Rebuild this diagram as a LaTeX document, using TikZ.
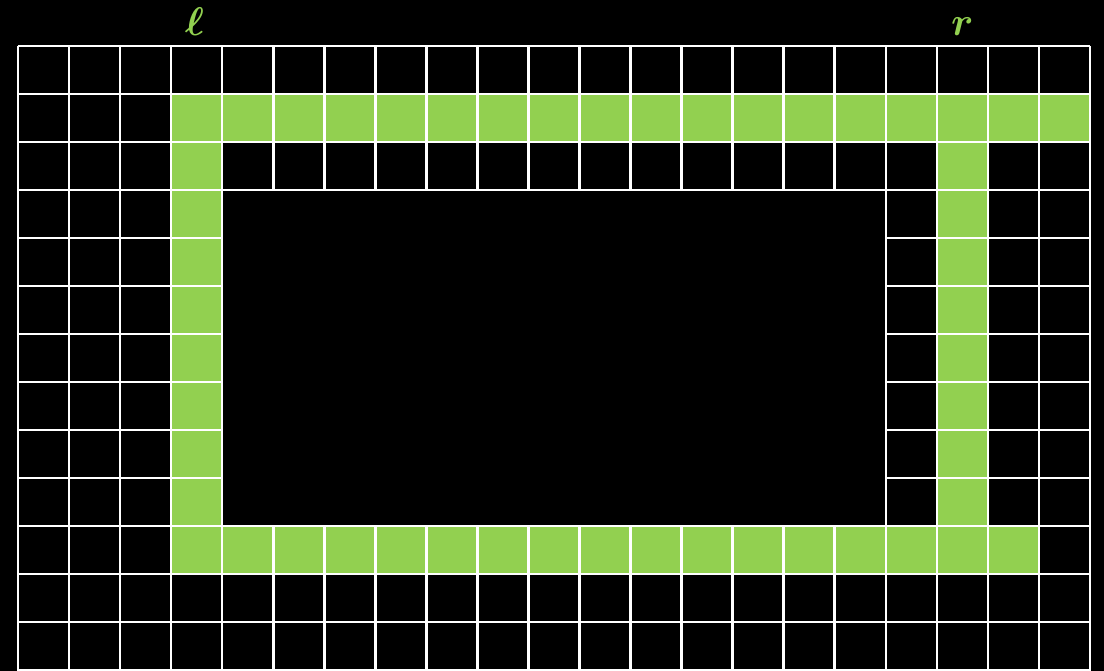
\documentclass[tikz,border=0pt]{standalone}
\usepackage{graphicx}
\definecolor{cellgreen}{RGB}{146,208,80}
\begin{document}
\begin{tikzpicture}[x=1pt,y=-1pt,
  gridline/.style={white,line width=2.6pt},
  greencell/.style={fill=cellgreen},
  lbl/.style={text=cellgreen,anchor=base,inner sep=0pt,font=\boldmath}]
\fill[black] (0,0) rectangle (1104,671);
\useasboundingbox (0,0) rectangle (1104,671);
\def\cw{51.0476}
\def\rh{48}
% green path
\fill[greencell] ({18+3*\cw},{46+1*\rh}) rectangle ({18+21*\cw},{46+2*\rh});
\fill[greencell] ({18+3*\cw},{46+1*\rh}) rectangle ({18+4*\cw},{46+11*\rh});
\fill[greencell] ({18+18*\cw},{46+1*\rh}) rectangle ({18+19*\cw},{46+10*\rh});
\fill[greencell] ({18+3*\cw},{46+10*\rh}) rectangle ({18+20*\cw},{46+11*\rh});
% grid
\foreach \i in {0,...,21}{
  \draw[gridline] ({18+\i*\cw},46) -- ({18+\i*\cw},671);
}
\foreach \j in {0,...,13}{
  \draw[gridline] (18,{46+\j*\rh}) -- (1090.0,{46+\j*\rh});
}
% interior block
\fill[black] ({18+4*\cw+1.3},{46+3*\rh+1.3}) rectangle ({18+17*\cw-1.3},{46+10*\rh-1.3});
% labels
\node[lbl] (ell) at ({18+3.5*\cw-2},36) {\scalebox{4}{$\ell$}};
\node[lbl] (r) at ({18+18.5*\cw},36) {\scalebox{4}{$r$}};
\end{tikzpicture}
\end{document}
